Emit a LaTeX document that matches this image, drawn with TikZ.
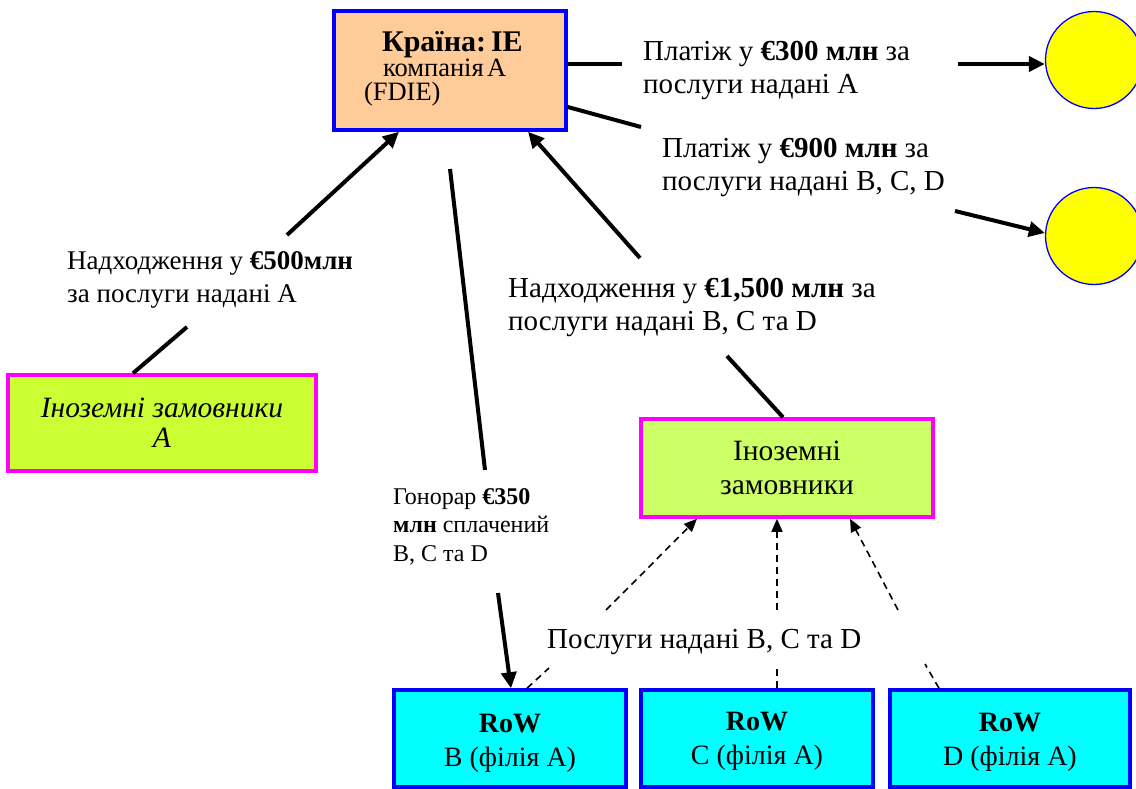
\documentclass[tikz,border=0pt]{standalone}
\usepackage{fontspec}
\setmainfont{Liberation Serif}
\usetikzlibrary{arrows.meta,calc}
\definecolor{peach}{HTML}{FFCC99}
\definecolor{limeA}{HTML}{CCFF33}
\definecolor{limeB}{HTML}{CCFF66}
\definecolor{cyanbox}{HTML}{00FFFF}
\definecolor{bluebd}{HTML}{0000FF}
\definecolor{magbd}{HTML}{FF00FF}
\definecolor{yel}{HTML}{FFFF00}
\begin{document}
\begin{tikzpicture}[x=1pt,y=-1pt,
  flow/.style={line width=4pt},
  flowarrow/.style={line width=4pt,-{Triangle[length=16pt,width=15pt]}},
  svcline/.style={line width=1.6pt,dash pattern=on 7pt off 5pt},
  svcarrow/.style={svcline,-{Triangle[length=13pt,width=11pt]}},
  lab/.style={inner sep=0pt,align=left,anchor=base west,font=\fontsize{29}{33}\selectfont},
  midlab/.style={inner sep=0pt,align=left,anchor=base west,font=\fontsize{27}{33}\selectfont},
  smalllab/.style={inner sep=0pt,align=left,anchor=base west,font=\fontsize{24}{28.5}\selectfont},
  topbox/.style={draw=bluebd,fill=peach,line width=3.5pt,minimum width=232pt,minimum height=119pt,inner xsep=4pt,text width=224pt},
  custbox/.style={draw=magbd,line width=3.5pt,align=center},
  rowbox/.style={draw=bluebd,fill=cyanbox,line width=3.5pt,minimum height=97pt,align=center,font=\fontsize{28}{34}\selectfont},
  market/.style={circle,draw=bluebd,fill=yel,line width=1.3pt,minimum size=97pt,inner sep=0pt}
]
\useasboundingbox (0,0) rectangle (1136,789);
\fill[white] (0,0) rectangle (1136,789);

% nodes
\node[topbox] (top) at (450,70.5) {\lineskiplimit=-100pt\parindent=0pt
  {\fontsize{30}{25}\selectfont\bfseries\hspace*{44pt}Країна: IE\par}
  {\fontsize{26.5}{25}\selectfont\hspace*{45pt}компанія A\par}
  {\fontsize{26.5}{24}\selectfont\hspace*{26pt}(FDIE)\rule[-9pt]{0pt}{9pt}\par}};
\node[market] (c1) at (1094,60) {};
\node[market] (c2) at (1094,236) {};
\node[custbox,fill=limeA,minimum width=308pt,minimum height=96pt,font=\fontsize{29.5}{30}\selectfont\itshape] (custA) at (162,423) {Іноземні замовники\\А};
\node[custbox,fill=limeB,minimum width=292pt,minimum height=98pt,font=\fontsize{29.5}{34}\selectfont] (custR) at (787,468) {Іноземні\\замовники};
\node[rowbox,minimum width=232pt] (rowB) at (510,738.5) {\rule{0pt}{27pt}\textbf{RoW}\\B (філія A)};
\node[rowbox,minimum width=232pt] (rowC) at (757,738.5) {\rule{0pt}{24pt}\textbf{RoW}\\C (філія A)};
\node[rowbox,minimum width=240pt] (rowD) at (1010,738.5) {\rule{0pt}{25pt}\textbf{RoW}\\D (філія A)};

% coordinates for gaps
\coordinate (p1a) at (622,64);
\coordinate (p1b) at (958,64);
\coordinate (p2a) at (641,127);
\coordinate (p2b) at (955,211);
\coordinate (p3a) at (187,327);
\coordinate (p3b) at (287,235);
\coordinate (p4a) at (727,356);
\coordinate (p4b) at (640,258);
\coordinate (p5s) at (450,169);
\coordinate (p5a) at (485,470);
\coordinate (p5b) at (498,593);
\coordinate (p6a) at (549,668);
\coordinate (p6b) at (606,610);
\coordinate (p7a) at (777,667);
\coordinate (p7b) at (777,610);
\coordinate (p8a) at (925,664);
\coordinate (p8b) at (898,610);

% connectors
\draw[flow] (top.east |- p1a) -- (p1a);
\draw[flowarrow] (p1b) -- (c1.west |- p1b);
\draw[flow] ([yshift=-36.5pt]top.east) -- (p2a);
\draw[flowarrow] (p2b) -- ([yshift=3pt]c2.west);
\draw[flow] ([xshift=-29pt]custA.north) -- (p3a);
\draw[flowarrow] (p3b) -- ([xshift=-51pt]top.south);
\draw[flow] ([xshift=-4pt]custR.north) -- (p4a);
\draw[flowarrow] (p4b) -- ([xshift=78pt]top.south);
\draw[flow] (p5s) -- (p5a);
\draw[flowarrow] (p5b) -- ([xshift=1pt]rowB.north);
\draw[svcline] ([xshift=17pt]rowB.north) -- (p6a);
\draw[svcarrow] (p6b) -- ([xshift=-90pt]custR.south);
\draw[svcline] ([xshift=20pt]rowC.north) -- (p7a);
\draw[svcarrow] (p7b) -- ([xshift=-10pt]custR.south);
\draw[svcline] ([xshift=-71pt]rowD.north) -- (p8a);
\draw[svcarrow] (p8b) -- ([xshift=63pt]custR.south);

% labels (anchor = baseline of the last line)
\node[lab] (l300) at (643,93.5) {Платіж у \textbf{€300 млн} за\\послуги надані A};
\node[lab] (l900) at (662,191) {Платіж у \textbf{€900 млн} за\\послуги надані B, C, D};
\node[midlab] (l500) at (67,302) {Надходження у \textbf{€500млн}\\за послуги надані А};
\node[lab] (l1500) at (508,330) {Надходження у \textbf{€1,500 млн} за\\послуги надані В, С та D};
\node[smalllab] (l350) at (393,561) {Гонорар \textbf{€350}\\\textbf{млн} сплачений\\B, C та D};
\node[lab] (lsvc) at (547,648) {Послуги надані В, С та D};
\end{tikzpicture}
\end{document}
